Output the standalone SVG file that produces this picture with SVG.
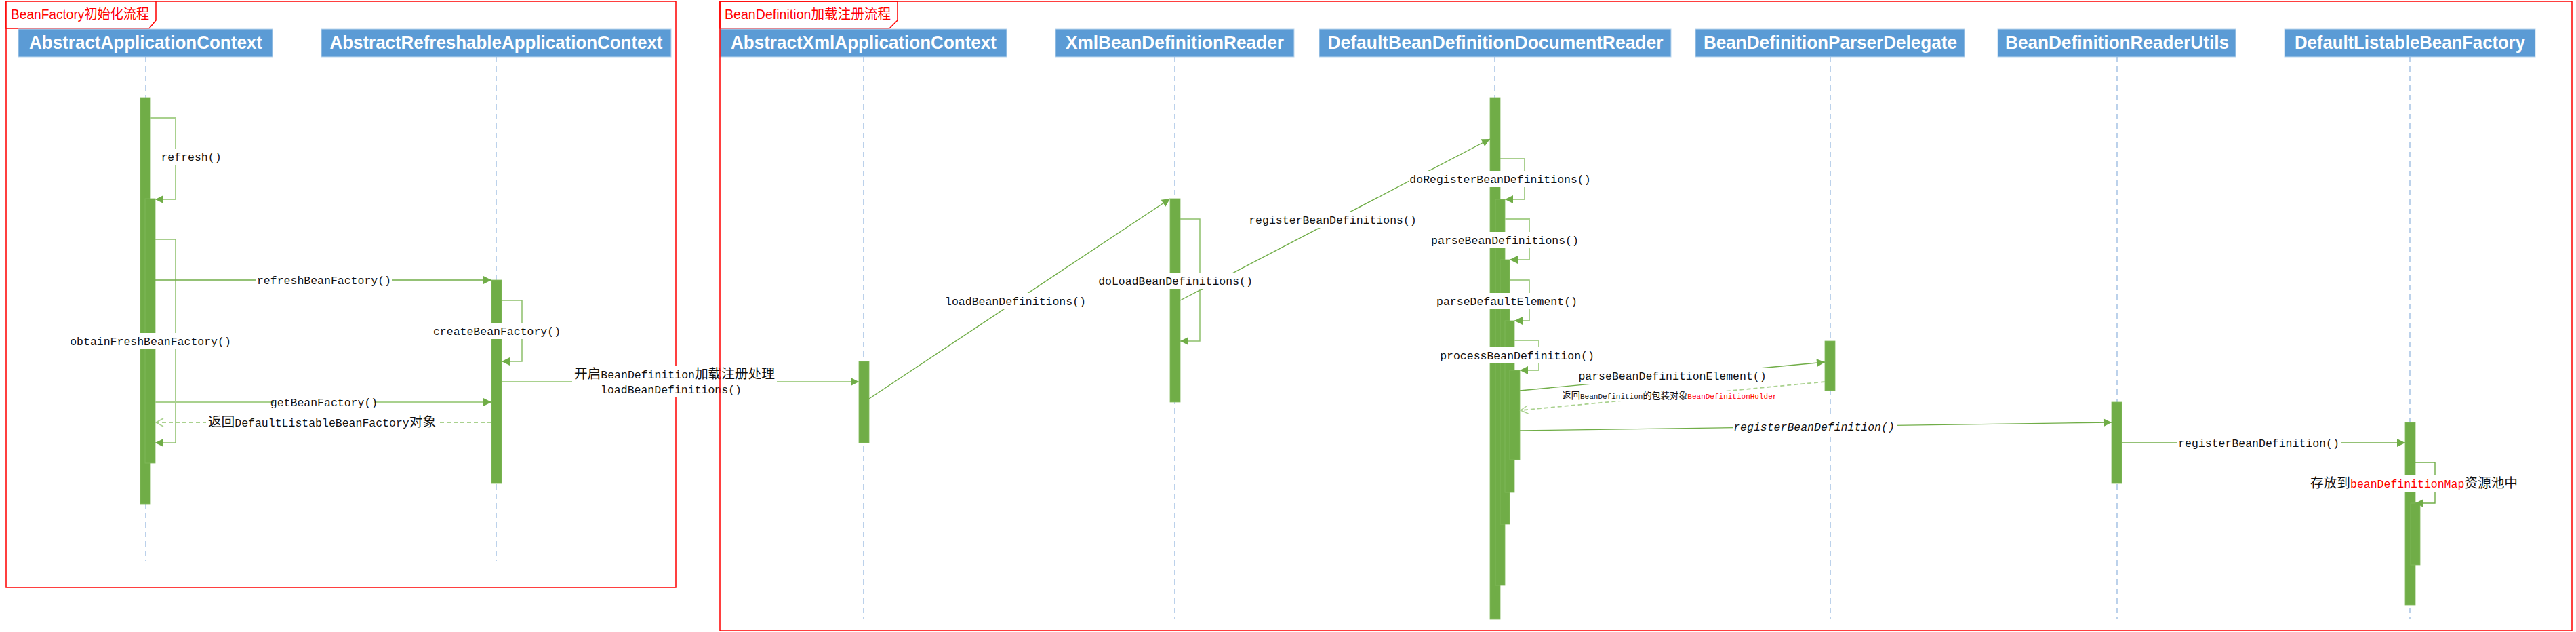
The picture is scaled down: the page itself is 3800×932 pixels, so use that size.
<svg xmlns="http://www.w3.org/2000/svg" width="3800" height="932" viewBox="0 0 3800 932">
<style>
.bgw{fill:#ffffff}
.frame{fill:none;stroke:#FF0000;stroke-width:1.5}
.tab{fill:#ffffff;stroke:#FF0000;stroke-width:1.5}
.tabt{font-family:"Liberation Sans","Noto Sans CJK SC",sans-serif;font-size:20px;fill:#FF0000}
.hdr{fill:#5B9BD5;stroke:#BDD7EE;stroke-width:1}
.hdrt{font-family:"Liberation Sans","Noto Sans CJK SC",sans-serif;font-size:28px;font-weight:bold;fill:#ffffff;text-anchor:middle}
.life{stroke:#8FB4DE;stroke-width:1.2;stroke-dasharray:8 6;fill:none}
.bar{fill:#70AD47;stroke:#82B95C;stroke-width:0.8}
.m{fill:none;stroke:#70AD47;stroke-width:1.4}
.ml{fill:none;stroke:#A9D18E;stroke-width:2}
.mm{fill:none;stroke:#8DC06B;stroke-width:1.5}
.dash{fill:none;stroke:#A9D18E;stroke-width:1.8;stroke-dasharray:6 4}
.lbl{font-family:"Liberation Mono","Noto Sans CJK SC",monospace;font-size:16.5px;fill:#111111;text-anchor:middle}
.lbl .c{font-size:19.7px}
.sm{font-family:"Liberation Mono","Noto Sans CJK SC",monospace;font-size:11px;fill:#111111;text-anchor:middle}
.sm .c{font-size:13.2px}
.red{fill:#FF0000}
.it{font-style:italic}
</style>
<defs>
<marker id="af" markerUnits="userSpaceOnUse" markerWidth="12" markerHeight="12" viewBox="0 0 12 12" refX="12" refY="6" orient="auto" overflow="visible"><path d="M0,0 L12,6 L0,12 Z" fill="#70AD47"/></marker>
<marker id="ao" markerUnits="userSpaceOnUse" markerWidth="12" markerHeight="12" viewBox="0 0 12 12" refX="11" refY="6" orient="auto" overflow="visible"><path d="M0,0 L11,6 L0,12" fill="none" stroke="#A9D18E" stroke-width="1.5"/></marker>
</defs>
<rect x="0" y="0" width="3800" height="932" fill="#ffffff"/>

<g id="frame-beanfactory">
<rect class="frame" x="9" y="2" width="988" height="864"/>
<path class="tab" d="M9,2 H230 V30 L220,42 H9 Z"/>
<text class="tabt" x="16" y="28" textLength="204" lengthAdjust="spacingAndGlyphs">BeanFactory初始化流程</text>
</g>

<g id="lifeline-AbstractApplicationContext">
<rect class="hdr" x="27" y="43" width="375" height="41"/>
<text class="hdrt" x="215" y="72" textLength="344" lengthAdjust="spacingAndGlyphs">AbstractApplicationContext</text>
<line class="life" x1="215" y1="84" x2="215" y2="828"/>
<rect class="bar" x="207" y="144" width="15" height="599"/>
<rect class="bar" x="214" y="293" width="15" height="390"/>
</g>

<g id="lifeline-AbstractRefreshableApplicationContext">
<rect class="hdr" x="474" y="43" width="516" height="41"/>
<text class="hdrt" x="732" y="72" textLength="491" lengthAdjust="spacingAndGlyphs">AbstractRefreshableApplicationContext</text>
<line class="life" x1="732" y1="84" x2="732" y2="828"/>
<rect class="bar" x="725" y="413" width="15" height="300"/>
</g>

<g id="frame-beandefinition-tab">
<path class="tab" d="M1062,2 H1324 V30 L1312,42 H1062 Z"/>
<text class="tabt" x="1069" y="28" textLength="245" lengthAdjust="spacingAndGlyphs">BeanDefinition加载注册流程</text>
</g>

<g id="lifeline-AbstractXmlApplicationContext">
<rect class="hdr" x="1062" y="43" width="423" height="41"/>
<text class="hdrt" x="1274" y="72" textLength="392" lengthAdjust="spacingAndGlyphs">AbstractXmlApplicationContext</text>
<line class="life" x1="1274" y1="84" x2="1274" y2="913"/>
<rect class="bar" x="1267" y="533" width="15" height="120"/>
</g>

<g id="lifeline-XmlBeanDefinitionReader">
<rect class="hdr" x="1557" y="43" width="352" height="41"/>
<text class="hdrt" x="1733" y="72" textLength="322" lengthAdjust="spacingAndGlyphs">XmlBeanDefinitionReader</text>
<line class="life" x1="1733" y1="84" x2="1733" y2="913"/>
<rect class="bar" x="1726" y="293" width="15" height="300"/>
</g>

<g id="lifeline-DefaultBeanDefinitionDocumentReader">
<rect class="hdr" x="1946" y="43" width="519" height="41"/>
<text class="hdrt" x="2206" y="72" textLength="495" lengthAdjust="spacingAndGlyphs">DefaultBeanDefinitionDocumentReader</text>
<line class="life" x1="2205" y1="84" x2="2205" y2="913"/>
<rect class="bar" x="2198" y="144" width="15" height="769"/>
<rect class="bar" x="2206" y="294" width="14" height="569"/>
<rect class="bar" x="2213" y="383" width="14" height="390"/>
<rect class="bar" x="2220" y="473" width="14" height="253"/>
<rect class="bar" x="2227" y="546" width="15" height="132"/>
</g>

<g id="lifeline-BeanDefinitionParserDelegate">
<rect class="hdr" x="2501" y="43" width="397" height="41"/>
<text class="hdrt" x="2700" y="72" textLength="374" lengthAdjust="spacingAndGlyphs">BeanDefinitionParserDelegate</text>
<line class="life" x1="2700" y1="84" x2="2700" y2="913"/>
<rect class="bar" x="2692" y="503" width="15" height="73"/>
</g>

<g id="lifeline-BeanDefinitionReaderUtils">
<rect class="hdr" x="2947" y="43" width="351" height="41"/>
<text class="hdrt" x="3123" y="72" textLength="330" lengthAdjust="spacingAndGlyphs">BeanDefinitionReaderUtils</text>
<line class="life" x1="3123" y1="84" x2="3123" y2="913"/>
<rect class="bar" x="3115" y="593" width="15" height="120"/>
</g>

<g id="lifeline-DefaultListableBeanFactory">
<rect class="hdr" x="3370" y="43" width="370" height="41"/>
<text class="hdrt" x="3555" y="72" textLength="340" lengthAdjust="spacingAndGlyphs">DefaultListableBeanFactory</text>
<line class="life" x1="3555" y1="84" x2="3555" y2="913"/>
<rect class="bar" x="3548" y="623" width="15" height="269"/>
<rect class="bar" x="3556" y="742" width="14" height="91"/>
</g>

<g id="connectors">
<polyline class="ml" points="222,174 259,174 259,294 229,294" marker-end="url(#af)"/>
<polyline class="mm" points="229,353 259,353 259,653 229,653" marker-end="url(#af)"/>
<line class="m" x1="229" y1="413" x2="725" y2="413" marker-end="url(#af)"/>
<polyline class="mm" points="740,443 770,443 770,533 740,533" marker-end="url(#af)"/>
<line class="ml" x1="229" y1="593" x2="725" y2="593" marker-end="url(#af)"/>
<line class="dash" x1="725" y1="623" x2="230" y2="623" marker-end="url(#ao)"/>
<line class="ml" x1="740" y1="563" x2="1267" y2="563" marker-end="url(#af)"/>
<line class="m" x1="1282" y1="588" x2="1726" y2="293" stroke-width="1" marker-end="url(#af)"/>
<polyline class="mm" points="1741,323 1770,323 1770,503 1741,503" marker-end="url(#af)"/>
<line class="m" x1="1741" y1="443" x2="2198" y2="205" stroke-width="1" marker-end="url(#af)"/>
<polyline class="mm" points="2213,234 2249,234 2249,294 2220,294" marker-end="url(#af)"/>
<polyline class="ml" points="2220,323 2256,323 2256,383 2227,383" marker-end="url(#af)"/>
<polyline class="mm" points="2227,413 2256,413 2256,473 2234,473" marker-end="url(#af)"/>
<polyline class="ml" points="2234,502 2270,502 2270,546 2242,546" marker-end="url(#af)"/>
<line class="m" x1="2242" y1="576" x2="2692" y2="534" marker-end="url(#af)"/>
<line class="dash" x1="2692" y1="563" x2="2243" y2="605" marker-end="url(#ao)"/>
<line class="m" x1="2242" y1="635" x2="3115" y2="623" marker-end="url(#af)"/>
<line class="m" x1="3130" y1="653" x2="3548" y2="653" marker-end="url(#af)"/>
<polyline class="m" points="3563,682 3592,682 3592,742 3563,742" marker-end="url(#af)"/>

<rect class="bgw" x="236" y="219" width="93" height="24"/>
<text class="lbl" x="282" y="236.5">refresh()</text>

<rect class="bgw" x="101" y="491" width="242" height="24"/>
<text class="lbl" x="222" y="508.5">obtainFreshBeanFactory()</text>

<rect class="bgw" x="378" y="401" width="200" height="24"/>
<text class="lbl" x="478" y="418.5">refreshBeanFactory()</text>

<rect class="bgw" x="637" y="476" width="192" height="24"/>
<text class="lbl" x="733" y="493.5">createBeanFactory()</text>

<rect class="bgw" x="404" y="581" width="148" height="24"/>
<text class="lbl" x="478" y="598.5">getBeanFactory()</text>

<rect class="bgw" x="304" y="611" width="342" height="24"/>
<text class="lbl" x="475" y="628.5"><tspan class="c">返回</tspan>DefaultListableBeanFactory<tspan class="c">对象</tspan></text>

<rect class="bgw" x="844" y="540" width="302" height="46"/>
<text class="lbl" x="995" y="558"><tspan class="c">开启</tspan>BeanDefinition<tspan class="c">加载注册处理</tspan></text>
<text class="lbl" x="990" y="580">loadBeanDefinitions()</text>

<rect class="bgw" x="1392" y="432" width="212" height="24"/>
<text class="lbl" x="1498" y="449.5">loadBeanDefinitions()</text>

<rect class="bgw" x="1618" y="402" width="232" height="24"/>
<text class="lbl" x="1734" y="419.5">doLoadBeanDefinitions()</text>

<rect class="bgw" x="1840" y="312" width="252" height="24"/>
<text class="lbl" x="1966" y="329.5">registerBeanDefinitions()</text>

<rect class="bgw" x="2078" y="252" width="270" height="24"/>
<text class="lbl" x="2213" y="269.5">doRegisterBeanDefinitions()</text>

<rect class="bgw" x="2109" y="342" width="222" height="24"/>
<text class="lbl" x="2220" y="359.5">parseBeanDefinitions()</text>

<rect class="bgw" x="2117" y="432" width="212" height="24"/>
<text class="lbl" x="2223" y="449.5">parseDefaultElement()</text>

<rect class="bgw" x="2122" y="512" width="232" height="24"/>
<text class="lbl" x="2238" y="529.5">processBeanDefinition()</text>

<rect class="bgw" x="2327" y="542" width="281" height="24"/>
<text class="lbl" x="2467" y="559.5">parseBeanDefinitionElement()</text>

<rect class="bgw" x="2302" y="577" width="322" height="15"/>
<text class="sm" x="2463" y="588"><tspan class="c">返回</tspan>BeanDefinition<tspan class="c">的包装对象</tspan><tspan class="red">BeanDefinitionHolder</tspan></text>

<rect class="bgw" x="2556" y="617" width="242" height="24"/>
<text class="lbl it" x="2676" y="634.5">registerBeanDefinition()</text>

<rect class="bgw" x="3211" y="641" width="242" height="24"/>
<text class="lbl" x="3332" y="658.5">registerBeanDefinition()</text>

<rect class="bgw" x="3406" y="700" width="310" height="25"/>
<text class="lbl" x="3561" y="718.5"><tspan class="c">存放到</tspan><tspan class="red">beanDefinitionMap</tspan><tspan class="c">资源池中</tspan></text>
</g>

<g id="frame-beandefinition">
<rect class="frame" x="1062" y="2" width="2732" height="928"/>
</g>
</svg>
